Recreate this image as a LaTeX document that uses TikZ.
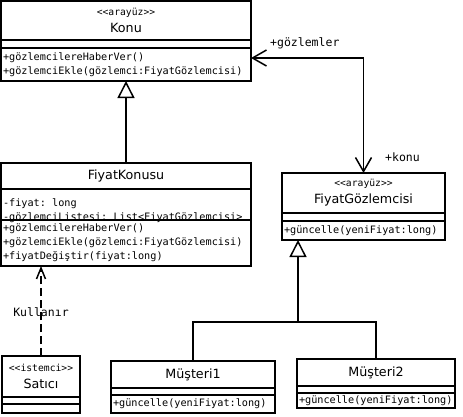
\documentclass[tikz,border=0pt]{standalone}
\usepackage{fontspec}
\setmainfont{DejaVu Sans}
\setmonofont{DejaVu Sans Mono}
\usetikzlibrary{shapes,
                arrows.meta,
                positioning}
\newcommand{\stereofont}{\ttfamily\fontsize{9.7}{11}\selectfont}
\newcommand{\namefont}{\rmfamily\fontsize{12.7}{17}\selectfont}
\newcommand{\opfont}{\ttfamily\fontsize{10.2}{14}\selectfont}
\newcommand{\classhead}[3]{\parbox[c][#1][c]{#2}{\centering #3}}
\newcommand{\classlist}[4][c]{\parbox[c][#2][#1]{#3}{\opfont\raggedright\leftskip=2pt\relax #4}}
\newcommand{\classgap}[1]{\rule{0pt}{#1}}
\tikzset{class-box/.style=
   {rectangle split,
    rectangle split parts=3,
    draw,
    line width=1.5pt,
    inner xsep=0pt,
    inner ysep=0pt,
    outer sep=0pt}}
\tikzset{assoc/.style =
   {draw,
    line width=1.5pt,
    {Straight Barb[length=14pt,width=16pt]}-{Straight Barb[length=14pt,width=16pt]}}}
\tikzset{inherit/.style =
   {draw,
    line width=1.5pt,
    -{Triangle[open,length=17pt,width=17pt]}}}
\tikzset{uses/.style =
   {draw,
    line width=1.5pt,
    dash pattern=on 8pt off 4pt,
    -{Straight Barb[length=11pt,width=9pt]}}}
\tikzset{role/.style =
   {font=\ttfamily\fontsize{11.5}{13}\selectfont,
    inner sep=0pt}}

\begin{document}
\begin{tikzpicture}[x=1pt, y=-1pt]
    \useasboundingbox (0,0) rectangle (463,416);

    \node [class-box, anchor=north west] (konu) at (1,1)
    {\nodepart{one}   {\classhead{37.5pt}{250pt}{{\stereofont <<arayüz>>}\par\namefont Konu}}
     \nodepart{two}   {\classgap{6.5pt}}
     \nodepart{three} {\classlist{31.5pt}{250pt}{+gözlemcilereHaberVer()\\
                                                 +gözlemciEkle(gözlemci:FiyatGözlemcisi)}}};

    \node [class-box,
           below = 82pt of konu.south west,
           anchor=north west] (fiyatkonusu)
    {\nodepart{one}   {\classhead{24.5pt}{250pt}{\namefont FiyatKonusu}}
     \nodepart{two}   {\classlist[b]{29.5pt}{250pt}{-fiyat: long\\
                                                    -gözlemciListesi: List<FiyatGözlemcisi>\par
                                                    \vspace*{-3pt}}}
     \nodepart{three} {\classlist{44.5pt}{250pt}{+gözlemcilereHaberVer()\\
                                                 +gözlemciEkle(gözlemci:FiyatGözlemcisi)\\
                                                 +fiyatDeğiştir(fiyat:long)}}};

    \node [class-box, anchor=north west] (gozlemci) at (282,173)
    {\nodepart{one}   {\classhead{38.5pt}{163pt}{{\stereofont <<arayüz>>}\par\namefont FiyatGözlemcisi}}
     \nodepart{two}   {\classgap{6.5pt}}
     \nodepart{three} {\classlist{17.5pt}{163pt}{+güncelle(yeniFiyat:long)}}};

    \node [class-box, anchor=north west] (satici) at (2,356)
    {\nodepart{one}   {\classhead{39.5pt}{78pt}{{\stereofont <<istemci>>}\par\namefont Satıcı}}
     \nodepart{two}   {\classgap{5.5pt}}
     \nodepart{three} {\classgap{7.5pt}}};

    \node [class-box, anchor=north west] (musteri1) at (111,361)
    {\nodepart{one}   {\classhead{25.5pt}{164pt}{\namefont Müşteri1}}
     \nodepart{two}   {\classgap{5.5pt}}
     \nodepart{three} {\classlist{16.5pt}{164pt}{+güncelle(yeniFiyat:long)}}};

    \node [class-box, anchor=north west] (musteri2) at (297,359)
    {\nodepart{one}   {\classhead{25.5pt}{158pt}{\namefont Müşteri2}}
     \nodepart{two}   {\classgap{5.5pt}}
     \nodepart{three} {\classlist{13.5pt}{158pt}{+güncelle(yeniFiyat:long)}}};

    % konu <-> gozlemci
    \coordinate (bend) at (363.5,58);
    \draw [assoc] (konu.east |- bend) -- (bend) -- (gozlemci.north);
    \node [role, anchor=west] (gozlemler) at (270,43) {+gözlemler};
    \node [role, anchor=west] (konurol) at (385,157) {+konu};

    % kalitim
    \draw [inherit] (fiyatkonusu.north) -- (konu.south);
    \coordinate (fork) at (298,322);
    \draw [line width=1.5pt] (musteri1.north) |- (fork) -| (musteri2.north);
    \draw [inherit] (fork) -- (fork |- gozlemci.south);

    % satici kullanir
    \draw [uses] (satici.north) -- node [role, yshift=-1pt] {Kullanır} (satici.north |- fiyatkonusu.south);

\end{tikzpicture}
\end{document}
